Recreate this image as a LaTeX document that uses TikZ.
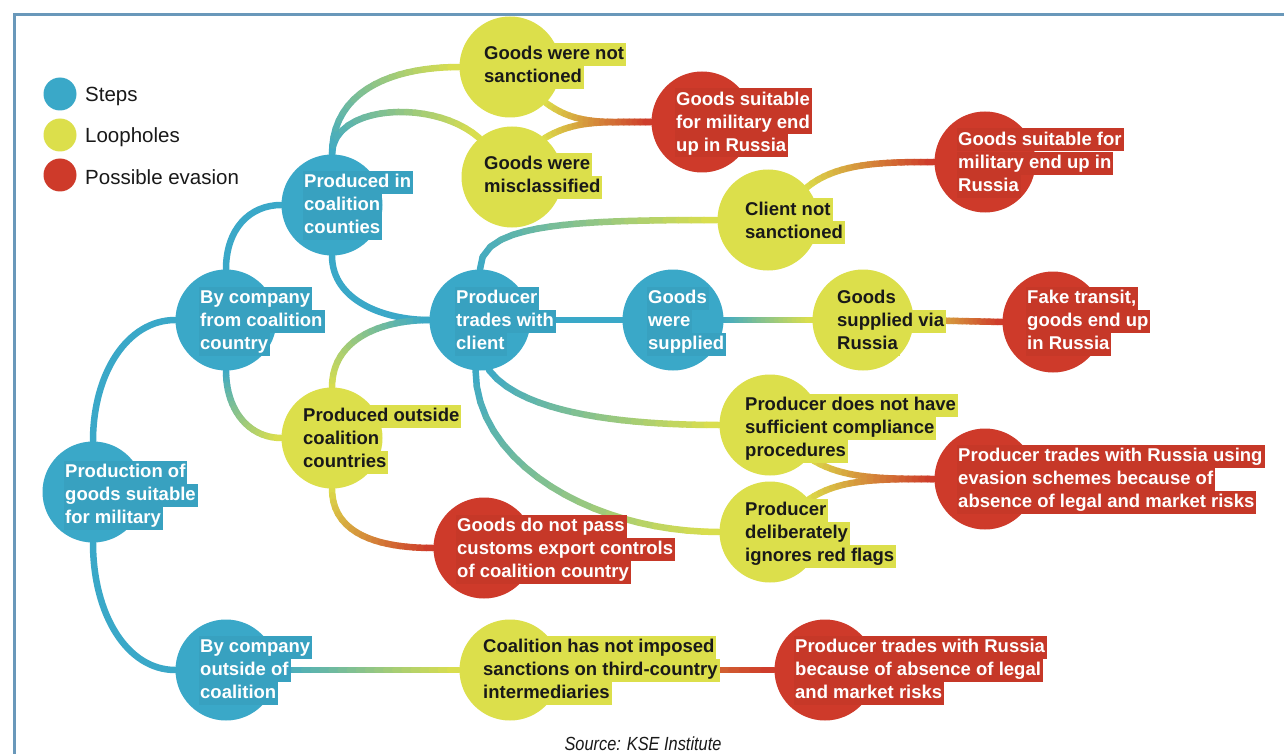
\documentclass[tikz,border=0pt]{standalone}
\usepackage{fontspec}
\setmainfont{Liberation Sans}
\usetikzlibrary{decorations.markings}
\definecolor{cblue}{RGB}{58,168,200}
\definecolor{cyel}{RGB}{220,223,75}
\definecolor{cred}{RGB}{206,58,42}
\definecolor{cframe}{RGB}{105,152,186}
\definecolor{ctext}{RGB}{25,25,25}
\newcommand\HLbox[2]{{\setlength{\fboxsep}{0pt}\colorbox{#1}{\kern1.5pt\rule[-6pt]{0pt}{23pt}#2\kern2pt}}}
\newcommand\HLb[1]{\HLbox{cblue!96!black}{#1}}
\newcommand\HLy[1]{\HLbox{cyel}{#1}}
\newcommand\HLr[1]{\HLbox{cred!96!black}{#1}}
\pgfdeclarelayer{bg}
\pgfsetlayers{bg,main}
\newcommand\gline[3]{%
  \path[decorate,decoration={markings,mark=between positions 0 and 1 step 0.0499 with {\coordinate (gq-\pgfkeysvalueof{/pgf/decoration/mark info/sequence number});}}] #3;
  \foreach \i in {1,...,20}{%
    \pgfmathtruncatemacro\j{\i+1}%
    \pgfmathtruncatemacro\pc{\i*5-2}%
    \draw[conn,#2!\pc!#1] (gq-\i) -- (gq-\j);
  }%
}
\tikzset{
  dot/.style={circle, minimum size=101pt, inner sep=0pt},
  bdot/.style={dot, fill=cblue},
  ydot/.style={dot, fill=cyel},
  rdot/.style={dot, fill=cred},
  ldot/.style={circle, minimum size=33pt, inner sep=0pt},
  tx/.style={anchor=west, inner sep=0pt, align=left, font=\fontsize{18.5}{23}\selectfont\bfseries},
  txw/.style={tx, text=white},
  txk/.style={tx, text=ctext},
  legtx/.style={anchor=west, inner sep=0pt, text=ctext, font=\fontsize{20.5}{24}\selectfont},
  conn/.style={line width=6.5pt, line cap=round},
}
\begin{document}
\begin{tikzpicture}[x=1pt,y=-1pt]
\useasboundingbox (0,0) rectangle (1284,754);
\begin{pgfonlayer}{bg}
\fill[white] (0,0) rectangle (1284,754);
\end{pgfonlayer}
\draw[cframe, line width=3pt] (14,754) -- (14,15) -- (1284,15);

% legend
\node[ldot, fill=cblue] (lgb) at (60,94) {};
\node[legtx] (lgbt) at (85,96) {Steps};
\node[ldot, fill=cyel] (lgy) at (60,135) {};
\node[legtx] (lgyt) at (85,137) {Loopholes};
\node[ldot, fill=cred] (lgr) at (60,175) {};
\node[legtx] (lgrt) at (85,177) {Possible evasion};

% circles
\node[bdot] (prod) at (93,492) {};
\node[bdot] (bycc) at (226,320) {};
\node[bdot] (prodin) at (332,205) {};
\node[bdot] (trades) at (480,320) {};
\node[bdot] (supplied) at (673,320) {};
\node[bdot] (byout) at (226,670) {};
\node[ydot] (notsanc) at (510,67) {};
\node[ydot] (miscl) at (512,177) {};
\node[ydot] (client) at (768,220) {};
\node[ydot] (viaru) at (863,320) {};
\node[ydot] (prodout) at (332,438) {};
\node[ydot] (compl) at (770,425) {};
\node[ydot] (ignores) at (770,532) {};
\node[ydot] (coal) at (510,670) {};
\node[rdot] (redtop) at (702,122) {};
\node[rdot] (redright) at (985,162) {};
\node[rdot] (fake) at (1053,322) {};
\node[rdot] (evasion) at (985,479) {};
\node[rdot] (customs) at (484,548) {};
\node[rdot] (redbottom) at (825,670) {};

% connectors
\begin{pgfonlayer}{bg}
\draw[conn,cblue] (prod.north) .. controls +(0,-68) and +(-48,0) .. (bycc.west);
\draw[conn,cblue] (prod.south) .. controls +(0,72) and +(-48,0) .. (byout.west);
\draw[conn,cblue] (bycc.north) .. controls +(0,-40) and +(-32,0) .. (prodin.west);
\gline{cblue}{cyel}{(bycc.south) .. controls +(0,40) and +(-32,0) .. (prodout.west)}
\gline{cblue}{cyel}{(prodin.north) .. controls +(0,-65) and +(-65,0) .. (notsanc.west)}
\gline{cblue}{cyel}{(prodin.north) .. controls +(0,-50) and +(-45,-40) .. (miscl.130)}
\draw[conn,cblue] (prodin.south) .. controls +(0,45) and +(-45,0) .. (trades.west);
\gline{cyel}{cblue}{(prodout.north) .. controls +(0,-50) and +(-45,0) .. (trades.west)}
\gline{cyel}{cred}{(prodout.south) .. controls +(0,50) and +(-45,0) .. (customs.west)}
\gline{cblue}{cyel}{(trades.north) .. controls +(0,-45) and +(-150,0) .. (client.west)}
\draw[conn,cblue] (trades.east) -- (supplied.west);
\gline{cblue}{cyel}{(supplied.east) -- (viaru.west)}
\gline{cyel}{cred}{(viaru.east) -- (fake.west)}
\gline{cyel}{cred}{(client.40) .. controls +(30,-25) and +(-50,0) .. (redright.west)}
\gline{cyel}{cred}{(notsanc.-45) .. controls +(30,22) and +(-50,0) .. (redtop.west)}
\gline{cyel}{cred}{(miscl.50) .. controls +(30,-18) and +(-50,0) .. (redtop.west)}
\gline{cblue}{cyel}{(trades.-80) .. controls +(30,40) and +(-110,0) .. (compl.west)}
\gline{cblue}{cyel}{(trades.-95) .. controls +(0,90) and +(-130,0) .. (ignores.west)}
\gline{cyel}{cred}{(compl.-40) .. controls +(30,20) and +(-60,0) .. (evasion.west)}
\gline{cyel}{cred}{(ignores.40) .. controls +(30,-20) and +(-60,0) .. (evasion.west)}
\gline{cblue}{cyel}{(byout.east) -- (coal.west)}
\gline{cyel}{cred}{(coal.east) -- (redbottom.west)}
\end{pgfonlayer}

% texts
\node[txw] (prodT) at (63.5,495) {\HLb{Production of}\\\HLb{goods suitable}\\\HLb{for military}};
\node[txw] (byccT) at (198.5,321) {\HLb{By company}\\\HLb{from coalition}\\\HLb{country}};
\node[txw] (prodinT) at (302.5,205) {\HLb{Produced in}\\\HLb{coalition}\\\HLb{counties}};
\node[txw] (tradesT) at (454.5,321) {\HLb{Producer}\\\HLb{trades with}\\\HLb{client}};
\node[txw] (suppliedT) at (646.5,321) {\HLb{Goods}\\\HLb{were}\\\HLb{supplied}};
\node[txw] (byoutT) at (198.5,670) {\HLb{By company}\\\HLb{outside of}\\\HLb{coalition}};
\node[txk] (notsancT) at (482.5,66) {\HLy{Goods were not}\\\HLy{sanctioned}};
\node[txk] (misclT) at (482.5,176) {\HLy{Goods were}\\\HLy{misclassified}};
\node[txk] (clientT) at (743.5,221) {\HLy{Client not}\\\HLy{sanctioned}};
\node[txk] (viaruT) at (835.5,321) {\HLy{Goods}\\\HLy{supplied via}\\\HLy{Russia}};
\node[txk] (prodoutT) at (301.5,439) {\HLy{Produced outside}\\\HLy{coalition}\\\HLy{countries}};
\node[txk] (complT) at (743.5,428) {\HLy{Producer does not have}\\\HLy{sufficient compliance}\\\HLy{procedures}};
\node[txk] (ignoresT) at (743.5,533) {\HLy{Producer}\\\HLy{deliberately}\\\HLy{ignores red flags}};
\node[txk] (coalT) at (481.5,670) {\HLy{Coalition has not imposed}\\\HLy{sanctions on third-country}\\\HLy{intermediaries}};
\node[txw] (redtopT) at (674.5,123) {\HLr{Goods suitable}\\\HLr{for military end}\\\HLr{up in Russia}};
\node[txw] (redrightT) at (956.5,163) {\HLr{Goods suitable for}\\\HLr{military end up in}\\\HLr{Russia}};
\node[txw] (fakeT) at (1025.5,321) {\HLr{Fake transit,}\\\HLr{goods end up}\\\HLr{in Russia}};
\node[txw] (evasionT) at (956.5,479) {\HLr{Producer trades with Russia using}\\\HLr{evasion schemes because of}\\\HLr{absence of legal and market risks}};
\node[txw] (customsT) at (455.5,549) {\HLr{Goods do not pass}\\\HLr{customs export controls}\\\HLr{of coalition country}};
\node[txw] (redbottomT) at (793.5,670) {\HLr{Producer trades with Russia}\\\HLr{because of absence of legal}\\\HLr{and market risks}};

% source
\node[anchor=base, inner sep=0pt, text=ctext, font=\fontsize{19}{22}\selectfont\itshape] (src) at (643,750) {\scalebox{0.86}[1]{Source: KSE Institute}};
\end{tikzpicture}
\end{document}
